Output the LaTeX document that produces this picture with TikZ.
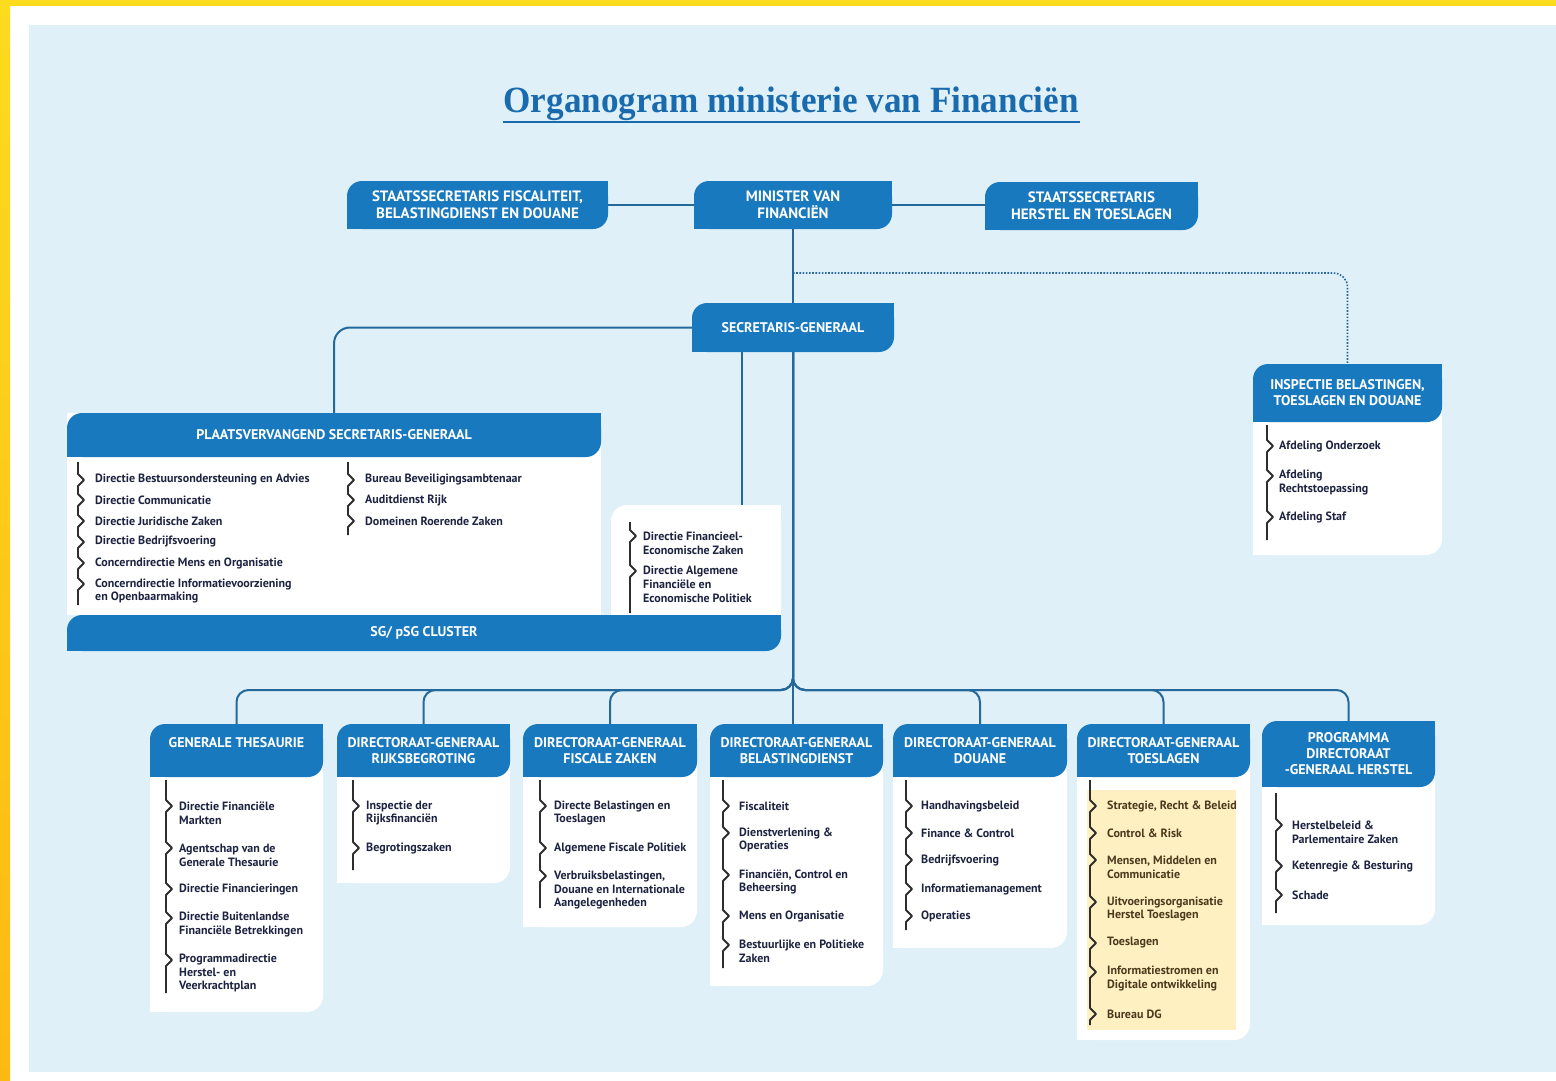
\documentclass[tikz,border=0pt]{standalone}
\usepackage{fontspec}
\usepackage{graphicx}
\setmainfont{PT Sans}
\newfontfamily\titlefnt{Liberation Serif}
\definecolor{bgblue}{HTML}{DFF0F9}
\definecolor{hdrblue}{HTML}{1879BF}
\definecolor{lineblue}{HTML}{24699A}
\definecolor{itemtxt}{HTML}{1D2340}
\definecolor{ytxt}{HTML}{4A3A1E}
\definecolor{hilite}{HTML}{FFF0C2}
\definecolor{brkc}{HTML}{2E2E2E}
\definecolor{titleblue}{HTML}{1A6BAE}
\definecolor{yel}{HTML}{FDDB1D}
\definecolor{orng}{HTML}{FDB913}
\newcommand\hdr[6]{%
  \fill[hdrblue, rounded corners=15pt] (#2,#3) rectangle (#4,#5);
  \fill[hdrblue] (#4-16,#3) rectangle (#4,#3+16);
  \fill[hdrblue] (#2,#5-16) rectangle (#2+16,#5);
  \node[hdrtext, minimum width=#4pt-#2pt, minimum height=#5pt-#3pt] (#1) at ({(#2+#4)/2},{(#3+#5)/2}) {#6};
}
\newcommand\panel[4]{%
  \fill[white, rounded corners=16pt] (#1,#2) rectangle (#3,#4);
  \fill[white] (#1,#4-18) rectangle (#1+18,#4);
}
\newcommand\itemcol[3]{\foreach \yy/\txt [count=\i] in {#3} {\node[item] (#1\i) at (#2,\yy) {\txt};}}
\newcommand\brkt[4]{\draw[brkline] (#1,#2) \foreach \q in {#4}{ -- (#1,\q-6) -- (#1+6,\q) -- (#1,\q+6)} -- (#1,#3);}
\begin{document}
\begin{tikzpicture}[x=1pt,y=-1pt,
  hdrtext/.style={text=white, font=\bfseries\fontsize{14}{16}\selectfont, align=center, inner sep=0pt},
  tophdr/.style={font=\bfseries\fontsize{15}{17}\selectfont},
  item/.style={anchor=west, text=itemtxt, font=\bfseries\fontsize{12}{13.8}\selectfont, align=left, inner sep=0pt},
  brkline/.style={draw=brkc, line width=1.8pt, line join=round},
  link/.style={draw=lineblue, line width=2pt, rounded corners=12pt},
  dotlink/.style={draw=lineblue, line width=1.6pt, dash pattern=on 1.6pt off 1.6pt, rounded corners=14pt}]
\useasboundingbox (0,0) rectangle (1556,1081);
\fill[white] (0,0) rectangle (1556,1081);
\fill[yel] (0,0) rectangle (1556,6);
\shade[top color=yel, bottom color=orng] (0,0) rectangle (10,1081);
\fill[bgblue] (29,25) rectangle (1556,1072);

% title
\node[anchor=base, text=titleblue, inner sep=0pt] (title) at (791,113)
  {\resizebox{575pt}{\height}{\titlefnt\bfseries\fontsize{37}{40}\selectfont Organogram ministerie van Financiën}};
\draw[titleblue, line width=1.4pt] (503,122) -- (1080,122);

% top row
\begin{scope}[hdrtext/.append style={tophdr}]
\hdr{ssf}{347}{181}{608}{229}{STAATSSECRETARIS FISCALITEIT,\\BELASTINGDIENST EN DOUANE}
\hdr{min}{694}{181}{892}{229}{MINISTER VAN\\FINANCIËN}
\hdr{ssh}{985}{182}{1198}{230}{STAATSSECRETARIS\\HERSTEL EN TOESLAGEN}
\end{scope}
\hdr{sg}{692}{303}{894}{352}{SECRETARIS-GENERAAL}

% PSG block
\fill[white] (67,413) rectangle (601,615);
\hdr{psg}{67}{413}{601}{457}{PLAATSVERVANGEND SECRETARIS-GENERAAL}
\fill[white, rounded corners=16pt] (611,505) rectangle (781,630);
\fill[white] (765,505) rectangle (781,521);
\hdr{cluster}{67}{615}{781}{651}{SG/ pSG CLUSTER}

% Inspectie
\panel{1253}{364}{1442}{555}
\hdr{insp}{1253}{364}{1442}{422}{INSPECTIE BELASTINGEN,\\TOESLAGEN EN DOUANE}

% bottom row
\panel{150}{724}{323}{1012}
\hdr{gt}{150}{724}{323}{777}{GENERALE THESAURIE\\[0pt]~}
\panel{337}{724}{510}{883}
\hdr{rb}{337}{724}{510}{777}{DIRECTORAAT-GENERAAL\\RIJKSBEGROTING}
\panel{523}{724}{697}{927}
\hdr{fz}{523}{724}{697}{777}{DIRECTORAAT-GENERAAL\\FISCALE ZAKEN}
\panel{710}{724}{883}{986}
\hdr{bd}{710}{724}{883}{777}{DIRECTORAAT-GENERAAL\\BELASTINGDIENST}
\panel{893}{724}{1067}{948}
\hdr{do}{893}{724}{1067}{777}{DIRECTORAAT-GENERAAL\\DOUANE}
\panel{1077}{724}{1250}{1040}
\hdr{ts}{1077}{724}{1250}{777}{DIRECTORAAT-GENERAAL\\TOESLAGEN}
\panel{1262}{721}{1435}{925}
\hdr{hs}{1262}{721}{1435}{787}{PROGRAMMA\\DIRECTORAAT\\-GENERAAL HERSTEL}
\fill[hilite] (1087,790) rectangle (1236,1030);

% connectors
\draw[link] (ssf.east) -- (min.west);
\draw[link] (min.east) -- (min.east -| ssh.west);
\draw[link] (min.south) -- (sg.north);
\coordinate (dot0) at (793,273);
\draw[dotlink] (dot0) -- (dot0 -| insp.north) -- (insp.north);
\draw[link, rounded corners=16pt] (sg.west) -- (sg.west -| psg.north) -- (psg.north);
\coordinate (fetop) at (742,505);
\draw[link] (sg.south -| fetop) -- (fetop);
\coordinate (bus) at (793,690);
\foreach \b in {gt,rb,fz,do,ts,hs} {\draw[link] (sg.south) -- (bus) -- (bus -| \b.north) -- (\b.north);}
\draw[link] (sg.south) -- (sg.south |- bd.north);

% brackets
\brkt{78}{462}{605}{480,500,521,542,563,584}
\brkt{348}{462}{535}{480,500,521}
\brkt{630}{522}{613}{536,571}
\brkt{1267}{425}{540}{446,476,517}
\brkt{166}{780}{993}{806,848,889,918,960}
\brkt{353}{780}{870}{806,848}
\brkt{540}{780}{908}{806,848,876}
\brkt{723}{780}{968}{806,833,875,916,945}
\brkt{906}{780}{930}{806,833,860,889,916}
\brkt{1090}{780}{1025}{806,833,860,902,943,972,1014}
\brkt{1276}{793}{913}{825,866,895}

% items
\itemcol{pl}{95}{480/{Directie Bestuursondersteuning en Advies}, 500/{Directie Communicatie}, 521/{Directie Juridische Zaken}, 542/{Directie Bedrijfsvoering}, 563/{Concerndirectie Mens en Organisatie}, 591/{Concerndirectie Informatievoorziening\\en Openbaarmaking}}
\itemcol{pr}{365}{480/{Bureau Beveiligingsambtenaar}, 500/{Auditdienst Rijk}, 521/{Domeinen Roerende Zaken}}
\itemcol{fe}{643}{543/{Directie Financieel-\\Economische Zaken}, 584.5/{Directie Algemene\\Financiële en\\Economische Politiek}}
\itemcol{ins}{1279}{446/{Afdeling Onderzoek}, 482.5/{Afdeling\\Rechtstoepassing}, 517/{Afdeling Staf}}
\itemcol{gti}{179}{813/{Directie Financiële\\Markten}, 855/{Agentschap van de\\Generale Thesaurie}, 889/{Directie Financieringen}, 924.5/{Directie Buitenlandse\\Financiële Betrekkingen}, 973/{Programmadirectie\\Herstel- en\\Veerkrachtplan}}
\itemcol{rbi}{366}{813/{Inspectie der\\Rijksfinanciën}, 848/{Begrotingszaken}}
\itemcol{fzi}{554}{813/{Directe Belastingen en\\Toeslagen}, 848/{Algemene Fiscale Politiek}, 890/{Verbruiksbelastingen,\\Douane en Internationale\\Aangelegenheden}}
\itemcol{bdi}{739}{806/{Fiscaliteit}, 840/{Dienstverlening \&\\Operaties}, 882/{Financiën, Control en\\Beheersing}, 916/{Mens en Organisatie}, 951.5/{Bestuurlijke en Politieke\\Zaken}}
\itemcol{doi}{921}{806/{Handhavingsbeleid}, 833/{Finance \& Control}, 860/{Bedrijfsvoering}, 889/{Informatiemanagement}, 916/{Operaties}}
\begin{scope}[item/.append style={text=ytxt}]
\itemcol{tsi}{1107}{806/{Strategie, Recht \& Beleid}, 833/{Control \& Risk}, 867/{Mensen, Middelen en\\Communicatie}, 909/{Uitvoeringsorganisatie\\Herstel Toeslagen}, 943/{Toeslagen}, 978.5/{Informatiestromen en\\Digitale ontwikkeling}, 1014/{Bureau DG}}
\end{scope}
\itemcol{hsi}{1292}{832/{Herstelbeleid \&\\Parlementaire Zaken}, 866/{Ketenregie \& Besturing}, 895/{Schade}}
\end{tikzpicture}
\end{document}
